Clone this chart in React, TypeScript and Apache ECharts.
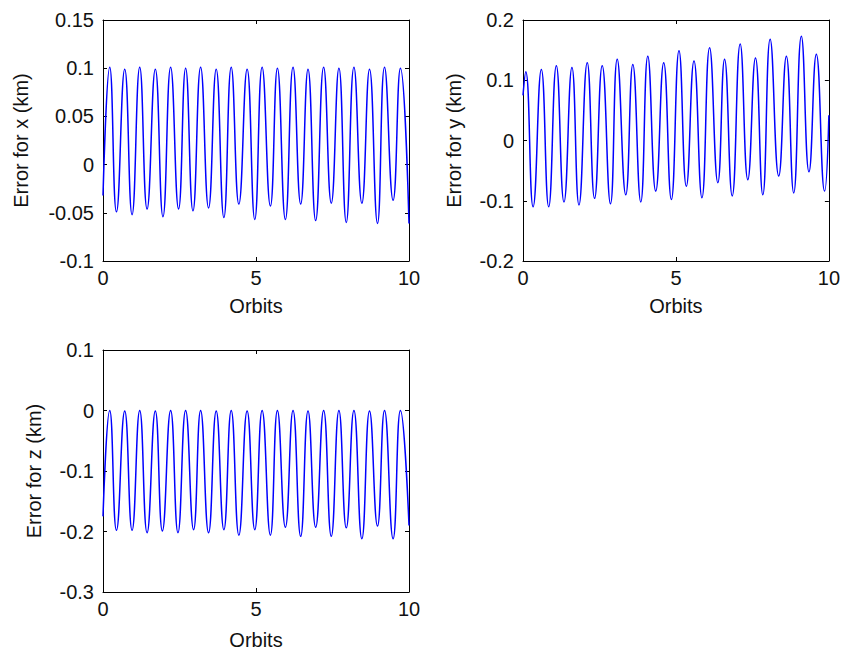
import React, { useEffect, useRef } from "react";
import * as echarts from "echarts";

// ---------- data ----------
const orbitTicks = [0, 5, 10];
const xErrTicks = [-0.1, -0.05, 0, 0.05, 0.1, 0.15];
const yErrTicks = [-0.2, -0.1, 0, 0.1, 0.2];
const zErrTicks = [-0.3, -0.2, -0.1, 0, 0.1];

// Error for x
const xStart = [0, -0.032];
const xEnd = [10, -0.061];
const xPeakT = [0.22, 0.71, 1.2, 1.71, 2.21, 2.7, 3.19, 3.7, 4.19, 4.71, 5.2, 5.7, 6.21, 6.7, 7.21, 7.71, 8.2, 8.71, 9.2, 9.72];
const xPeakV = [0.101, 0.099, 0.101, 0.099, 0.101, 0.1, 0.101, 0.099, 0.101, 0.099, 0.101, 0.1, 0.101, 0.099, 0.101, 0.1, 0.101, 0.099, 0.101, 0.1];
const xTroughT = [0.44, 0.95, 1.44, 1.96, 2.47, 2.94, 3.45, 3.95, 4.44, 4.96, 5.47, 5.96, 6.46, 6.95, 7.46, 7.95, 8.46, 8.97, 9.48];
const xTroughV = [-0.049, -0.052, -0.046, -0.054, -0.046, -0.048, -0.045, -0.055, -0.041, -0.057, -0.043, -0.057, -0.041, -0.058, -0.04, -0.06, -0.04, -0.061, -0.037];

// Error for y
const yStart = [0, 0.075];
const yEnd = [10, 0.042];
const yPeakT = [0.09, 0.6, 1.09, 1.6, 2.1, 2.59, 3.08, 3.59, 4.08, 4.6, 5.1, 5.59, 6.1, 6.59, 7.1, 7.6, 8.08, 8.61, 9.1, 9.59];
const yPeakV = [0.114, 0.118, 0.124, 0.121, 0.129, 0.124, 0.135, 0.126, 0.14, 0.129, 0.149, 0.132, 0.154, 0.135, 0.16, 0.137, 0.168, 0.14, 0.173, 0.143];
const yTroughT = [0.33, 0.84, 1.34, 1.83, 2.34, 2.86, 3.36, 3.85, 4.34, 4.85, 5.34, 5.85, 6.37, 6.84, 7.35, 7.84, 8.36, 8.85, 9.35, 9.86];
const yTroughV = [-0.11, -0.11, -0.102, -0.107, -0.096, -0.105, -0.09, -0.102, -0.084, -0.098, -0.076, -0.095, -0.07, -0.092, -0.065, -0.09, -0.059, -0.087, -0.052, -0.084];

// Error for z
const zStart = [0, -0.175];
const zEnd = [10, -0.19];
const zPeakT = [0.22, 0.71, 1.2, 1.71, 2.21, 2.7, 3.19, 3.7, 4.19, 4.71, 5.2, 5.7, 6.21, 6.7, 7.21, 7.71, 8.2, 8.71, 9.2, 9.72];
const zPeakV = [0.0, -0.001, 0.0, -0.001, 0.0, 0.0, 0.0, -0.001, 0.0, -0.001, 0.0, 0.0, 0.0, -0.001, 0.0, 0.0, 0.0, -0.001, 0.0, 0.0];
const zTroughT = [0.44, 0.95, 1.44, 1.94, 2.45, 2.96, 3.45, 3.95, 4.44, 4.96, 5.47, 5.96, 6.46, 6.95, 7.46, 7.95, 8.46, 8.97, 9.48];
const zTroughV = [-0.198, -0.198, -0.202, -0.199, -0.202, -0.197, -0.202, -0.197, -0.206, -0.197, -0.206, -0.193, -0.208, -0.193, -0.208, -0.194, -0.212, -0.191, -0.212];

// ---------- helpers ----------
function buildPoints(start: number[], peakT: number[], peakV: number[], troughT: number[], troughV: number[], end: number[]) {
  const pts: number[][] = [start];
  peakT.forEach((t, i) => pts.push([t, peakV[i]]));
  troughT.forEach((t, i) => pts.push([t, troughV[i]]));
  pts.push(end);
  return pts.sort((a, b) => a[0] - b[0]);
}

const FONT = "'Liberation Sans', Arial, Helvetica, sans-serif";
const TXT = { fontFamily: FONT, fontSize: 20, color: "#111" };

const panels = [
  { name: "Error for x (km)", ticks: xErrTicks, pts: buildPoints(xStart, xPeakT, xPeakV, xTroughT, xTroughV, xEnd), grid: { left: 103, top: 20, width: 306, height: 241 }, yGap: 72, xGap: 35 },
  { name: "Error for y (km)", ticks: yErrTicks, pts: buildPoints(yStart, yPeakT, yPeakV, yTroughT, yTroughV, yEnd), grid: { left: 523, top: 20, width: 306, height: 241 }, yGap: 59, xGap: 35 },
  { name: "Error for z (km)", ticks: zErrTicks, pts: buildPoints(zStart, zPeakT, zPeakV, zTroughT, zTroughV, zEnd), grid: { left: 103, top: 350, width: 306, height: 242 }, yGap: 59, xGap: 38 },
];

function axisBase() {
  return {
    axisLine: { show: true, onZero: false, lineStyle: { color: "#000", width: 1 } },
    axisTick: { show: true, inside: true, length: 4, lineStyle: { color: "#000", width: 1 } },
    splitLine: { show: false },
  };
}

export default function App() {
  const ref = useRef<HTMLDivElement>(null);
  useEffect(() => {
    document.body.style.margin = "0";
    if (!ref.current) return;
    const chart = echarts.init(ref.current, undefined, { renderer: "svg" });
    const xAxes: any[] = [];
    const yAxes: any[] = [];
    const series: any[] = [];
    panels.forEach((p, i) => {
      const ymin = p.ticks[0];
      const ymax = p.ticks[p.ticks.length - 1];
      const yint = p.ticks[1] - p.ticks[0];
      const xint = orbitTicks[1] - orbitTicks[0];
      xAxes.push({
        ...axisBase(),
        type: "value", gridIndex: i, position: "bottom",
        min: orbitTicks[0], max: orbitTicks[orbitTicks.length - 1], interval: xint,
        axisLabel: { ...TXT, margin: 7 },
        name: "Orbits", nameLocation: "middle", nameGap: p.xGap, nameTextStyle: TXT,
      });
      xAxes.push({
        ...axisBase(),
        type: "value", gridIndex: i, position: "top",
        min: orbitTicks[0], max: orbitTicks[orbitTicks.length - 1], interval: xint,
        axisLabel: { show: false },
      });
      yAxes.push({
        ...axisBase(),
        type: "value", gridIndex: i, position: "left",
        min: ymin, max: ymax, interval: yint,
        axisLabel: { ...TXT, margin: 9, formatter: (v: number) => String(Math.round(v * 1000) / 1000) },
        name: p.name, nameLocation: "middle", nameGap: p.yGap, nameTextStyle: TXT,
      });
      yAxes.push({
        ...axisBase(),
        type: "value", gridIndex: i, position: "right",
        min: ymin, max: ymax, interval: yint,
        axisLabel: { show: false },
      });
      series.push({
        type: "line",
        xAxisIndex: i * 2, yAxisIndex: i * 2,
        data: p.pts,
        smooth: 0.5,
        showSymbol: false,
        symbol: "none",
        lineStyle: { color: "#0000ff", width: 1.5 },
      });
    });
    chart.setOption({
      animation: false,
      backgroundColor: "#ffffff",
      grid: panels.map((p) => ({ ...p.grid, containLabel: false })),
      xAxis: xAxes,
      yAxis: yAxes,
      series,
    });
    return () => chart.dispose();
  }, []);
  return <div ref={ref} style={{ width: 843, height: 651 }} />;
}
